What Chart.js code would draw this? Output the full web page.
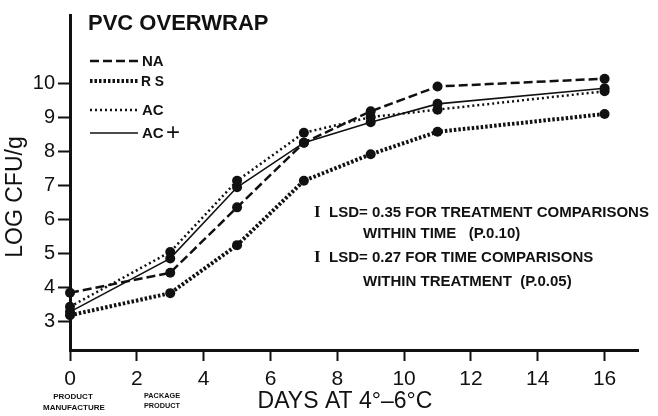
<!DOCTYPE html>
<html>
<head>
<meta charset="utf-8">
<script src="https://cdn.jsdelivr.net/npm/chart.js@4.4.1/dist/chart.umd.min.js"></script>
<style>
  html, body { margin: 0; padding: 0; background: #fff; }
  #wrap { width: 658px; height: 416px; }
</style>
</head>
<body>
<div id="wrap"><canvas id="pvcChart"></canvas></div>
<script>
// Data (log CFU/g per hari penyimpanan)
const days = [0, 3, 5, 7, 9, 11, 16];
const naValues = [3.84, 4.43, 6.35, 8.25, 9.17, 9.90, 10.13];
const rsValues = [3.18, 3.83, 5.24, 7.13, 7.91, 8.57, 9.09];
const acValues = [3.43, 5.04, 7.13, 8.54, 9.00, 9.22, 9.76];
const acPlusValues = [3.28, 4.85, 6.94, 8.25, 8.85, 9.39, 9.85];

const xTicks = [0, 2, 4, 6, 8, 10, 12, 14, 16];
const yTicks = [3, 4, 5, 6, 7, 8, 9, 10];

const FONT = "'Liberation Sans', Arial, Helvetica, sans-serif";
const INK = '#111';

function toPoints(values) {
  return days.map((d, i) => ({ x: d, y: values[i] }));
}

function makeSeries(label, values, dash, width) {
  return {
    label: label,
    data: toPoints(values),
    borderColor: INK,
    borderWidth: width,
    borderDash: dash,
    pointRadius: 5,
    pointHoverRadius: 5,
    pointBackgroundColor: INK,
    pointBorderWidth: 0,
    tension: 0,
    fill: false,
    clip: false
  };
}

// legend + teks tambahan digambar sendiri
const extraText = {
  id: 'extraText',
  afterDraw(chart) {
    const ctx = chart.ctx;
    ctx.save();
    ctx.fillStyle = INK;
    ctx.strokeStyle = INK;

    // judul
    ctx.font = 'bold 22px ' + FONT;
    ctx.textBaseline = 'middle';
    ctx.textAlign = 'left';
    ctx.fillText('PVC OVERWRAP', 88, 24, 186);

    // legend
    const legendY = [61, 81, 110, 133];
    chart.data.datasets.forEach((ds, i) => {
      const y = legendY[i];
      ctx.beginPath();
      ctx.setLineDash(ds.borderDash);
      ctx.lineWidth = ds.borderWidth;
      ctx.moveTo(90, y);
      ctx.lineTo(138, y);
      ctx.stroke();
      ctx.setLineDash([]);
      ctx.font = 'bold 15px ' + FONT;
      if (ds.label === 'AC+') {
        ctx.fillText('AC', 142, y + 1);
        ctx.font = '24px ' + FONT;
        ctx.fillText('+', 166, y);
      } else if (ds.label === 'RS') {
        ctx.fillText('R S', 141, y + 1, 23);
      } else {
        ctx.fillText(ds.label, 142, y + 1);
      }
    });

    // judul sumbu y
    ctx.save();
    ctx.translate(16, 197);
    ctx.rotate(-Math.PI / 2);
    ctx.textAlign = 'center';
    ctx.font = '23px ' + FONT;
    ctx.fillText('LOG CFU/g', 0, 0, 130);
    ctx.restore();

    // judul sumbu x dan keterangan hari
    ctx.textAlign = 'center';
    ctx.font = '23px ' + FONT;
    ctx.fillText('DAYS AT 4\u00B0\u20136\u00B0C', 345, 402, 188);
    ctx.font = 'bold 8px ' + FONT;
    ctx.fillText('PRODUCT', 73, 397, 56);
    ctx.fillText('MANUFACTURE', 74, 408, 68);
    ctx.fillText('PACKAGE', 162, 396, 36);
    ctx.fillText('PRODUCT', 162, 406, 36);

    // keterangan LSD
    ctx.textAlign = 'left';
    ctx.font = 'bold 17px "Liberation Serif", serif';
    ctx.fillText('I', 314, 213);
    ctx.fillText('I', 314, 258);
    ctx.font = 'bold 15px ' + FONT;
    ctx.fillText('LSD= 0.35 FOR TREATMENT COMPARISONS', 329, 213, 325);
    ctx.fillText('WITHIN TIME   (P.0.10)', 363, 234, 172);
    ctx.fillText('LSD= 0.27 FOR TIME COMPARISONS', 329, 258, 265);
    ctx.fillText('WITHIN TREATMENT  (P.0.05)', 363, 282, 254);
    ctx.restore();
  }
};

const ctxPvc = document.getElementById('pvcChart').getContext('2d');
const pvcChart = new Chart(ctxPvc, {
  type: 'line',
  data: {
    datasets: [
      makeSeries('NA', naValues, [9, 4], 2.5),
      makeSeries('RS', rsValues, [2.5, 2], 4),
      makeSeries('AC', acValues, [2, 3], 2.5),
      makeSeries('AC+', acPlusValues, [], 1.6)
    ]
  },
  options: {
    responsive: true,
    maintainAspectRatio: false,
    animation: false,
    layout: {
      padding: { top: 13, right: 20, left: 0, bottom: 0 }
    },
    plugins: {
      legend: { display: false },
      tooltip: { enabled: false }
    },
    scales: {
      x: {
        type: 'linear',
        min: 0,
        max: 17,
        afterBuildTicks: (scale) => { scale.ticks = xTicks.map(v => ({ value: v })); },
        afterFit: (scale) => { scale.height = 66; },
        border: { display: true, color: INK, width: 3 },
        grid: { display: true, drawOnChartArea: false, drawTicks: true, tickLength: 11, tickWidth: 2, tickColor: INK },
        ticks: { color: INK, font: { family: FONT, size: 21 }, padding: 6, maxRotation: 0 }
      },
      y: {
        min: 2.16,
        max: 12,
        afterBuildTicks: (scale) => { scale.ticks = yTicks.map(v => ({ value: v })); },
        afterFit: (scale) => { scale.width = 70; },
        border: { display: true, color: INK, width: 3 },
        grid: { display: true, drawOnChartArea: false, drawTicks: true, tickLength: 12, tickWidth: 2, tickColor: INK },
        ticks: { color: INK, font: { family: FONT, size: 20 }, padding: 3 }
      }
    }
  },
  plugins: [extraText]
});
</script>
</body>
</html>
